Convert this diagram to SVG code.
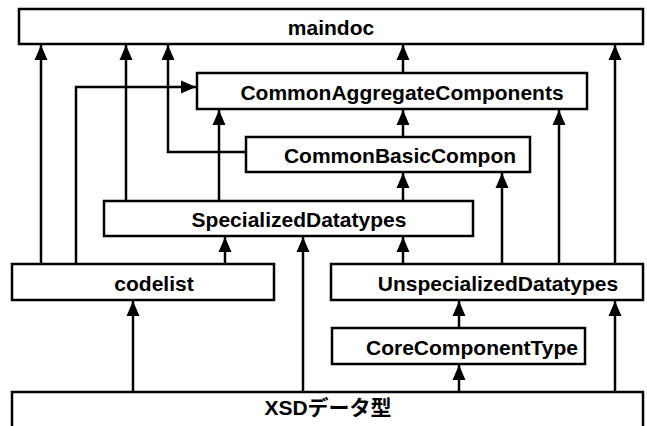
<svg xmlns="http://www.w3.org/2000/svg" width="647" height="426" viewBox="0 0 647 426">
<style>
.box{fill:#fff;stroke:#000;stroke-width:2.5}
.lbl{font-family:"Liberation Sans","Noto Sans CJK JP",Arial,sans-serif;font-weight:bold;font-size:21px;text-anchor:middle;fill:#000}
.c{fill:none;stroke:#000;stroke-width:2.5}
</style>
<defs>
<marker id="ah" markerUnits="userSpaceOnUse" markerWidth="16" markerHeight="16" refX="15" refY="7" orient="auto">
<path d="M0,0.5 L15,7 L0,13.5 z" fill="#000"/>
</marker>
</defs>
<rect width="647" height="426" fill="#fff"/>
<g id="connectors">
<path class="c" marker-end="url(#ah)" d="M41,264 V45"/>
<path class="c" marker-end="url(#ah)" d="M76,264 V87 H196"/>
<path class="c" marker-end="url(#ah)" d="M126,201 V45"/>
<path class="c" marker-end="url(#ah)" d="M246,152 H168 V45"/>
<path class="c" marker-end="url(#ah)" d="M219,201 V110"/>
<path class="c" marker-end="url(#ah)" d="M403,73 V45"/>
<path class="c" marker-end="url(#ah)" d="M403,137 V110"/>
<path class="c" marker-end="url(#ah)" d="M403,201 V173"/>
<path class="c" marker-end="url(#ah)" d="M502,264 V173"/>
<path class="c" marker-end="url(#ah)" d="M559,264 V110"/>
<path class="c" marker-end="url(#ah)" d="M615,264 V45"/>
<path class="c" marker-end="url(#ah)" d="M225,264 V237"/>
<path class="c" marker-end="url(#ah)" d="M303,392 V237"/>
<path class="c" marker-end="url(#ah)" d="M403,264 V237"/>
<path class="c" marker-end="url(#ah)" d="M133,392 V301"/>
<path class="c" marker-end="url(#ah)" d="M459,328 V301"/>
<path class="c" marker-end="url(#ah)" d="M459,392 V365"/>
<path class="c" marker-end="url(#ah)" d="M615,392 V301"/>
</g>
<g id="maindoc"><rect class="box" x="19" y="9" width="624" height="35"/><text class="lbl" x="331" y="35">maindoc</text></g>
<g id="CommonAggregateComponents"><rect class="box" x="197" y="73" width="390" height="36"/><text class="lbl" x="402" y="100">CommonAggregateComponents</text></g>
<g id="CommonBasicCompon"><rect class="box" x="246" y="137" width="284" height="35"/><text class="lbl" x="400" y="163">CommonBasicCompon</text></g>
<g id="SpecializedDatatypes"><rect class="box" x="104" y="201" width="369" height="35"/><text class="lbl" x="299" y="227">SpecializedDatatypes</text></g>
<g id="codelist"><rect class="box" x="12" y="264" width="262" height="36"/><text class="lbl" x="154" y="291">codelist</text></g>
<g id="UnspecializedDatatypes"><rect class="box" x="331" y="264" width="312" height="36"/><text class="lbl" x="498" y="291">UnspecializedDatatypes</text></g>
<g id="CoreComponentType"><rect class="box" x="332" y="328" width="253" height="36"/><text class="lbl" x="472" y="355">CoreComponentType</text></g>
<g id="XSD"><rect class="box" x="12" y="392" width="631" height="40"/><text class="lbl" x="328" y="415">XSDデータ型</text></g>
</svg>
